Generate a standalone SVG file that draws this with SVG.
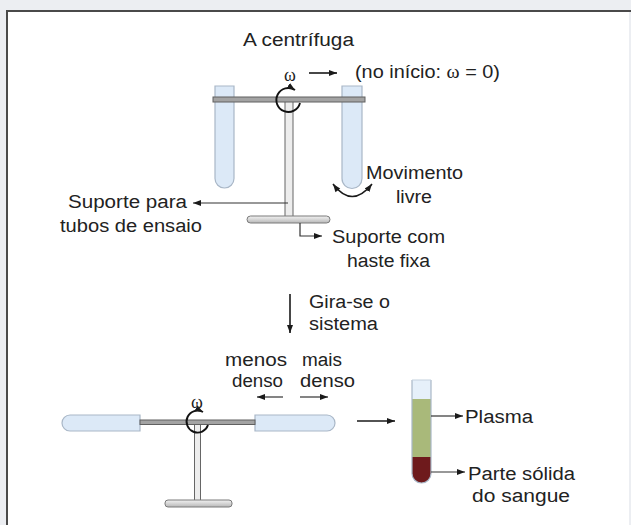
<svg xmlns="http://www.w3.org/2000/svg" width="631" height="525" viewBox="0 0 631 525">
  <defs>
    <marker id="head" markerUnits="userSpaceOnUse" markerWidth="9" markerHeight="7" refX="8" refY="3.5" orient="auto">
      <path d="M0,0.5 L8,3.5 L0,6.5 z" fill="#1a1a1a"/>
    </marker>
    <marker id="headStart" markerUnits="userSpaceOnUse" markerWidth="9" markerHeight="7" refX="0" refY="3.5" orient="auto">
      <path d="M8,0.5 L0,3.5 L8,6.5 z" fill="#1a1a1a"/>
    </marker>
    <linearGradient id="baseGrad" x1="0" y1="0" x2="0" y2="1">
      <stop offset="0" stop-color="#f2f2f2"/>
      <stop offset="1" stop-color="#b8b8b8"/>
    </linearGradient>
    <style>
      .t { font-family: "Liberation Sans", Arial, sans-serif; font-size: 18px; fill: #222; }
      .w { font-family: "Liberation Serif", "Times New Roman", serif; }
      .ln { stroke: #1a1a1a; stroke-width: 1.6; fill: none; }
      .thin { stroke: #333; stroke-width: 1.2; fill: none; }
      .tube { fill: #dce9f7; stroke: #a9b7c7; stroke-width: 1.2; }
      .bar { fill: #a3a3a3; stroke: #606060; stroke-width: 1; }
      .pole { fill: #ededed; stroke: #666; stroke-width: 1; }
      .base { fill: url(#baseGrad); stroke: #7a7a7a; stroke-width: 1; }
      .rot { stroke: #111; stroke-width: 1.9; fill: none; }
    </style>
  </defs>

  <!-- page frame -->
  <rect x="0" y="0" width="631" height="525" fill="#eceef2"/>
  <rect x="7" y="11" width="622" height="514" fill="#ffffff"/>
  <path d="M7,525 V11 H631" fill="none" stroke="#4a4a4a" stroke-width="2"/>

  <text class="t" x="243" y="46" textLength="111" lengthAdjust="spacingAndGlyphs">A centrífuga</text>

  <!-- upper centrifuge at rest -->
  <g id="centrifuge-rest">
    <path class="tube" d="M215,86 V178.5 A9.5,9.5 0 0 0 234,178.5 V86 Z"/>
    <path class="tube" d="M342,86 V178.5 A10,10 0 0 0 362,178.5 V86 Z"/>
    <rect class="pole" x="285" y="100" width="8" height="117"/>
    <rect class="bar" x="213" y="97" width="152" height="5"/>
    <rect class="base" x="247" y="216" width="83" height="7" rx="3.5"/>
    <path class="rot" d="M300,103 A12,12 0 1 1 295,90" marker-end="url(#head)"/>
    <text class="t w" x="290" y="81" font-size="15" text-anchor="middle">ω</text>
  </g>

  <g id="label-omega-zero">
    <text class="t" x="355" y="78" textLength="145" lengthAdjust="spacingAndGlyphs">(no início: <tspan class="w">ω</tspan> = 0)</text>
  </g>

  <g id="label-movimento">
    <text class="t" x="366" y="179" textLength="97" lengthAdjust="spacingAndGlyphs">Movimento</text>
    <text class="t" x="396" y="203" textLength="36" lengthAdjust="spacingAndGlyphs">livre</text>
  </g>

  <g id="label-suporte-tubos">
    <text class="t" x="68" y="208" textLength="119" lengthAdjust="spacingAndGlyphs">Suporte para</text>
    <text class="t" x="60" y="232" textLength="142" lengthAdjust="spacingAndGlyphs">tubos de ensaio</text>
  </g>

  <g id="label-suporte-haste">
    <text class="t" x="332" y="243" textLength="113" lengthAdjust="spacingAndGlyphs">Suporte com</text>
    <text class="t" x="347" y="267" textLength="83" lengthAdjust="spacingAndGlyphs">haste fixa</text>
  </g>

  <g id="label-gira">
    <text class="t" x="309" y="308" textLength="81" lengthAdjust="spacingAndGlyphs">Gira-se o</text>
    <text class="t" x="309" y="330" textLength="69" lengthAdjust="spacingAndGlyphs">sistema</text>
  </g>

  <!-- lower centrifuge spinning -->
  <g id="centrifuge-spinning">
    <path class="tube" d="M140,415 H70 A8,8 0 0 0 70,431 H140 Z"/>
    <path class="tube" d="M255,415 H327 A8,8 0 0 1 327,431 H255 Z"/>
    <rect class="pole" x="194.5" y="424" width="6" height="77"/>
    <rect class="bar" x="140" y="420" width="115" height="4.5"/>
    <rect class="base" x="165" y="500" width="67" height="7" rx="3"/>
    <path class="rot" d="M208,425 A11,11 0 1 1 203,412" marker-end="url(#head)"/>
    <text class="t w" x="197" y="408" font-size="14" text-anchor="middle">ω</text>
  </g>

  <g id="label-densidade">
    <text class="t" x="225" y="366" textLength="62" lengthAdjust="spacingAndGlyphs">menos</text>
    <text class="t" x="232" y="387" textLength="51" lengthAdjust="spacingAndGlyphs">denso</text>
    <text class="t" x="302" y="366" textLength="40" lengthAdjust="spacingAndGlyphs">mais</text>
    <text class="t" x="300" y="387" textLength="55" lengthAdjust="spacingAndGlyphs">denso</text>
  </g>

  <!-- separated blood sample -->
  <g id="tube-separated">
    <path d="M412,380 V399 H431 V380 Z" fill="#e6f0fa" stroke="none"/>
    <path d="M412,399 V457 H431 V399 Z" fill="#a9b97a"/>
    <path d="M412,457 V473.5 A9.5,9.5 0 0 0 431,473.5 V457 Z" fill="#6e1a1c"/>
    <path d="M412,380 V473.5 A9.5,9.5 0 0 0 431,473.5 V380" fill="none" stroke="#a9b7c7" stroke-width="1.2"/>
    <line x1="412" y1="380" x2="431" y2="380" stroke="#c3d0dd" stroke-width="1"/>
  </g>

  <g id="label-plasma">
    <text class="t" x="465" y="423" textLength="68" lengthAdjust="spacingAndGlyphs">Plasma</text>
  </g>
  <g id="label-parte-solida">
    <text class="t" x="468" y="480" textLength="107" lengthAdjust="spacingAndGlyphs">Parte sólida</text>
    <text class="t" x="472" y="502" textLength="98" lengthAdjust="spacingAndGlyphs">do sangue</text>
  </g>

  <!-- connectors -->
  <g id="connectors">
    <line class="ln" x1="309" y1="73" x2="337" y2="73" marker-end="url(#head)"/>
    <path class="ln" d="M333,184 Q352,209 372,184" marker-start="url(#headStart)" marker-end="url(#head)"/>
    <line class="thin" x1="288" y1="203" x2="193" y2="203" marker-end="url(#head)"/>
    <path class="thin" d="M300,223 V236 H322" marker-end="url(#head)"/>
    <line class="ln" x1="290" y1="294" x2="290" y2="333" marker-end="url(#head)"/>
    <line class="thin" x1="283" y1="397" x2="257" y2="397" stroke="#444" marker-end="url(#head)"/>
    <line class="thin" x1="300" y1="397" x2="328" y2="397" stroke="#444" marker-end="url(#head)"/>
    <line class="ln" x1="357" y1="421" x2="395" y2="421" stroke-width="2" marker-end="url(#head)"/>
    <line class="thin" x1="431" y1="416" x2="463" y2="416" marker-end="url(#head)"/>
    <line class="thin" x1="431" y1="472" x2="465" y2="472" marker-end="url(#head)"/>
  </g>
</svg>
